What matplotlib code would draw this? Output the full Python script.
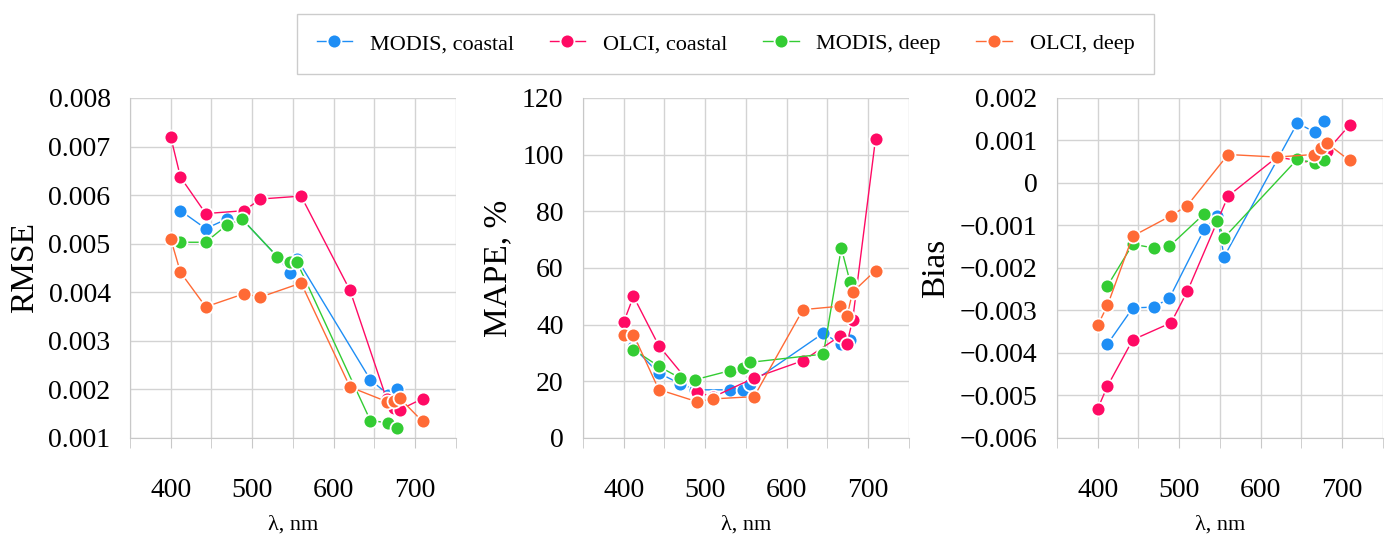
import matplotlib
matplotlib.use("Agg")
import matplotlib.pyplot as plt
from matplotlib.ticker import FuncFormatter, MultipleLocator

plt.rcParams['font.family'] = ['Liberation Serif', 'DejaVu Serif']

# wavelengths, nm
wl_modis = [412, 443, 469, 488, 531, 547, 555, 645, 667, 678]
wl_olci = [400, 412, 443, 490, 510, 560, 620, 665, 674, 681, 709]

# RMSE
rmse_modis_coastal = [0.00568, 0.00531, 0.00551, 0.0055, 0.00473, 0.0044, 0.00469, 0.0022, 0.00189, 0.0020]
rmse_olci_coastal = [0.0072, 0.00637, 0.00562, 0.00568, 0.00592, 0.00598, 0.00404, 0.0018, 0.00162, 0.00158, 0.00181]
rmse_modis_deep = [0.00503, 0.00503, 0.00539, 0.0055, 0.00473, 0.00462, 0.00462, 0.00136, 0.00131, 0.0012]
rmse_olci_deep = [0.0051, 0.00441, 0.0037, 0.00397, 0.0039, 0.00419, 0.00205, 0.00175, 0.00177, 0.00182, 0.00134]

# MAPE, %
mape_modis_coastal = [32.0, 22.9, 19.2, 17.0, 17.0, 16.8, 19.2, 37.0, 33.0, 34.7]
mape_olci_coastal = [40.9, 50.0, 32.6, 16.2, 14.5, 21.2, 27.3, 35.9, 33.3, 41.8, 105.5]
mape_modis_deep = [31.2, 25.3, 21.2, 20.6, 23.8, 24.7, 26.7, 29.6, 67.0, 54.9]
mape_olci_deep = [36.2, 36.5, 17.1, 12.8, 13.8, 14.6, 45.3, 46.5, 43.2, 51.5, 59.1]

# Bias
bias_modis_coastal = [-0.00379, -0.00294, -0.00292, -0.00271, -0.00108, -0.00078, -0.00174, 0.00141, 0.00119, 0.00147]
bias_olci_coastal = [-0.00531, -0.00478, -0.00369, -0.00329, -0.00255, -0.00031, 0.00061, 0.00047, 0.00060, 0.00075, 0.00136]
bias_modis_deep = [-0.00242, -0.00144, -0.00153, -0.00149, -0.00072, -0.00089, -0.00129, 0.00056, 0.00047, 0.00055]
bias_olci_deep = [-0.00335, -0.00288, -0.00125, -0.00077, -0.00053, 0.00067, 0.00061, 0.00067, 0.00082, 0.00094, 0.00053]

labels = ['MODIS, coastal', 'OLCI, coastal', 'MODIS, deep', 'OLCI, deep']
colors = ['#1E8EF5', '#FF0A64', '#33CC33', '#FF6A35']

panels = [
    ('RMSE', [rmse_modis_coastal, rmse_olci_coastal, rmse_modis_deep, rmse_olci_deep],
     (0.001, 0.008), 0.001),
    ('MAPE, %', [mape_modis_coastal, mape_olci_coastal, mape_modis_deep, mape_olci_deep],
     (0, 120), 20),
    ('Bias', [bias_modis_coastal, bias_olci_coastal, bias_modis_deep, bias_olci_deep],
     (-0.006, 0.002), 0.001),
]


def fmt_small(v, pos):
    if abs(v) < 1e-12:
        return '0'
    return f'{v:.3f}'.replace('-', '\u2212')


def fmt_int(v, pos):
    return f'{v:.0f}'


fig = plt.figure(figsize=(13.9, 5.34), dpi=100)
lefts = [0.0935, 0.4194, 0.7604]
axes = []
for left, (ylab, series, ylim, step) in zip(lefts, panels):
    ax = fig.add_axes([left, 0.1798, 0.2345, 0.6367])
    for i, vals in enumerate(series):
        wl = wl_modis if i % 2 == 0 else wl_olci
        ax.plot(wl, vals, '-o', color=colors[i], lw=1.0, ms=10,
                mec='white', mew=1.3, label=labels[i], zorder=3 + i)
    ax.set_xlim(350, 750)
    ax.set_ylim(*ylim)
    ax.xaxis.set_major_locator(MultipleLocator(100))
    ax.xaxis.set_minor_locator(MultipleLocator(50))
    ax.yaxis.set_major_locator(MultipleLocator(step))
    if ylab == 'MAPE, %':
        ax.yaxis.set_major_formatter(FuncFormatter(fmt_int))
    else:
        ax.yaxis.set_major_formatter(FuncFormatter(fmt_small))
    ax.grid(True, which='both', color='#d3d3d3', lw=1.0)
    ax.set_axisbelow(True)
    for s in ['top', 'right']:
        ax.spines[s].set_visible(False)
    for s in ['left', 'bottom']:
        ax.spines[s].set_color('#c8c8c8')
    ax.tick_params(axis='x', which='both', length=7, color='#c8c8c8',
                   labelsize=20, pad=22)
    ax.tick_params(axis='y', length=0, labelsize=20, pad=14)
    ax.set_xlabel('\u03bb, nm', fontsize=16, labelpad=9)
    ax.set_ylabel(ylab, fontsize=24, labelpad=6)
    axes.append(ax)

handles, labs = axes[0].get_legend_handles_labels()
leg = fig.legend(handles, labs, loc='center', bbox_to_anchor=(0.522, 0.918),
                 ncol=4, fontsize=16, frameon=True, fancybox=False,
                 handlelength=1.6, columnspacing=1.6, borderpad=0.9)
leg.get_frame().set_edgecolor('#c0c0c0')
leg.get_frame().set_linewidth(1.0)

fig.savefig('out.png', dpi=100)
